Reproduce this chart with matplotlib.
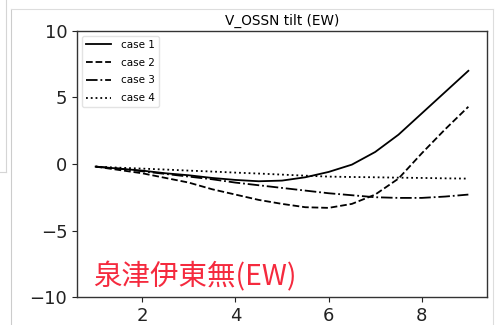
import matplotlib
matplotlib.use("Agg")
import matplotlib.pyplot as plt
from matplotlib.lines import Line2D

# === Data ===
x = [1, 1.5, 2, 2.5, 3, 3.5, 4, 4.5, 5, 5.5, 6, 6.5, 7, 7.5, 8, 8.5, 9]
case1 = [-0.2, -0.35, -0.5, -0.7, -0.85, -1.05, -1.2, -1.3, -1.25, -1.0, -0.6, -0.05, 0.9, 2.2, 3.8, 5.4, 7.0]
case2 = [-0.2, -0.45, -0.7, -1.05, -1.4, -1.9, -2.3, -2.7, -3.0, -3.25, -3.3, -3.0, -2.3, -1.1, 0.8, 2.6, 4.3]
case3 = [-0.2, -0.35, -0.55, -0.75, -0.95, -1.15, -1.4, -1.6, -1.8, -2.0, -2.2, -2.35, -2.5, -2.55, -2.55, -2.45, -2.3]
case4 = [-0.2, -0.28, -0.35, -0.42, -0.5, -0.57, -0.65, -0.72, -0.8, -0.88, -0.95, -0.98, -1.0, -1.03, -1.05, -1.08, -1.1]
labels = ["case 1", "case 2", "case 3", "case 4"]
title = "V_OSSN tilt (EW)"
note = "泉津伊東無(EW)"

plt.rcParams['font.family'] = ['DejaVu Sans']

fig = plt.figure(figsize=(5.0, 3.25), dpi=100)
ax = fig.add_axes([0.154, 0.086, 0.82, 0.819])

styles = ["-", "--", "-.", ":"]
for y, lab, ls in zip([case1, case2, case3, case4], labels, styles):
    ax.plot(x, y, color="black", linestyle=ls, linewidth=1.3, label=lab)

ax.set_xlim(0.6, 9.4)
ax.set_ylim(-10, 10)
ax.set_xticks([2, 4, 6, 8])
ax.set_yticks([-10, -5, 0, 5, 10])
ax.tick_params(labelsize=13, length=3.5, width=0.8, colors="#222222")
for s in ax.spines.values():
    s.set_color("#333333")
    s.set_linewidth(1.0)

ax.set_title(title, fontsize=9.8, pad=4)
ax.legend(loc="upper left", fontsize=7.5, frameon=True, edgecolor="#dddddd",
          handlelength=2.4, handletextpad=1.0, labelspacing=0.75,
          borderaxespad=0.45)

ax.text(0.038, 0.045, note, transform=ax.transAxes, fontsize=20.5,
        color="#f52a3e", family=['Noto Sans CJK JP', 'DejaVu Sans'])

# faint screenshot frame lines
W, H = 500, 325
fig.add_artist(Line2D([11 / W, 11 / W], [0, 1 - 9 / H], color="#cccccc", lw=0.8))
fig.add_artist(Line2D([11 / W, 493 / W], [1 - 9 / H, 1 - 9 / H], color="#dddddd", lw=0.8))
fig.add_artist(Line2D([493 / W, 493 / W], [0, 1 - 9 / H], color="#dddddd", lw=0.8))
fig.add_artist(Line2D([6 / W, 6 / W], [1 - 172 / H, 1], color="#d5d5d5", lw=0.8))
fig.add_artist(Line2D([0, 6 / W], [1 - 172 / H, 1 - 172 / H], color="#d5d5d5", lw=0.8))

fig.savefig("out.png", dpi=100)
